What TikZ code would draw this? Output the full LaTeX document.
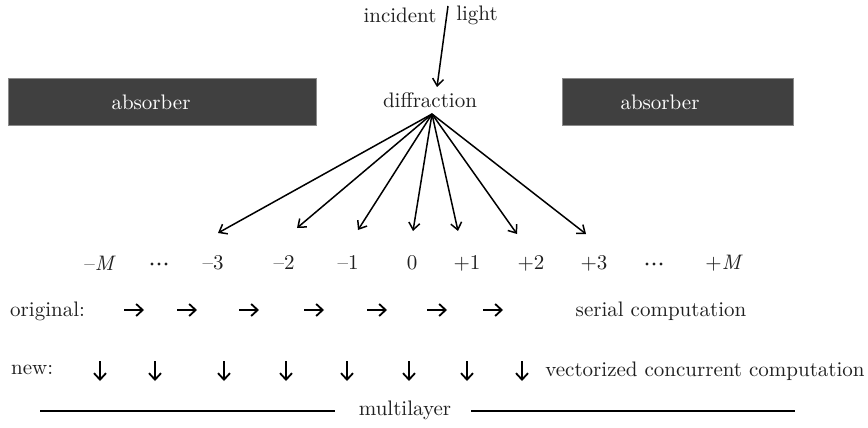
\documentclass[tikz,border=0pt]{standalone}
\usetikzlibrary{arrows.meta}
\definecolor{absgray}{HTML}{404040}
\definecolor{absedge}{HTML}{8A8A8A}
% text face: the 10pt design of Latin Modern, enlarged
\font\lbfont="[lmroman10-regular]:mapping=tex-text" at 21pt
\font\lbital="[lmroman10-italic]" at 21pt
\begin{document}
\begin{tikzpicture}[x=1pt,y=-1pt,
  lbl/.style={font=\lbfont, inner sep=0pt, text=black!88},
  dotfill/.style={fill=black!88},
  absorberbox/.style={fill=absgray, draw=absedge, line width=0.8pt, inner sep=0pt, anchor=north west},
  ray/.style={line width=1.5pt, -{Straight Barb[length=7pt,width=11pt,line width=1.5pt]}},
  flow/.style={line width=1.8pt, -{Straight Barb[length=6.5pt,width=12pt,line width=1.8pt]}},
  rule/.style={line width=1.5pt}
]
\useasboundingbox (0,0) rectangle (868,428);

% incident beam
\node[lbl] (inc) at (400,15) {incident};
\node[lbl] (lig) at (477,15) {light};
\coordinate (src) at (448,6);
\node[lbl] (dif) at (430,100) {diffraction};
\coordinate (apex) at (432,114);
\draw[ray] (src) -- (437,87) coordinate (hit);

% absorbers
\node[absorberbox, minimum width=308pt, minimum height=47pt] (absL) at (8,78) {};
\node[absorberbox, minimum width=231pt, minimum height=47pt] (absR) at (562,78) {};
\node[lbl, text=white] (absLt) at (151,102) {absorber};
\node[lbl, text=white] (absRt) at (660,102) {absorber};

% diffraction orders
\node[lbl] (mM) at (99,263) {–{\lbital M}};
\coordinate (dl) at (159,264);
\node[lbl] (m3) at (213,263) {–3};
\node[lbl] (m2) at (284,263) {–2};
\node[lbl] (m1) at (348,263) {–1};
\node[lbl] (z0) at (412,263) {0};
\node[lbl] (p1) at (467,263) {+1};
\node[lbl] (p2) at (531,263) {+2};
\node[lbl] (p3) at (594,263) {+3};
\coordinate (dr) at (654,264);
\node[lbl] (pM) at (723,263) {+{\lbital M}};
% ellipsis dots between the outer orders
\foreach \c in {dl,dr}
  \foreach \dx in {-7,0,7}
    \fill[dotfill] ([xshift=\dx pt]\c) circle (1.6pt);

% rays to the orders
\coordinate (t3) at (218,233);
\coordinate (t2) at (297,228);
\coordinate (t1) at (358,230);
\coordinate (t0) at (413,231);
\coordinate (u1) at (458,231);
\coordinate (u2) at (517,234);
\coordinate (u3) at (586,234);
\foreach \t in {t3,t2,t1,t0,u1,u2,u3}
  \draw[ray] (apex) -- (\t);

% serial row
\node[lbl, anchor=west] (orig) at (10,311) {original:};
\foreach \x [count=\i] in {134,187,249,314,377,437,493}
  \draw[flow] (\x-10,310) coordinate (sa\i) -- (\x+10,310) coordinate (sb\i);
\node[lbl] (ser) at (661,311) {serial computation};

% concurrent row
\node[lbl, anchor=west] (new) at (11,370) {new:};
\foreach \x [count=\i] in {100,155,224,286,347,409,467,522}
  \draw[flow] (\x,361) coordinate (va\i) -- (\x,381) coordinate (vb\i);
\node[lbl] (vec) at (705,371) {vectorized concurrent computation};

% multilayer
\node[lbl] (ml) at (405,410) {multilayer};
\coordinate (mlL) at (40,411);
\coordinate (mlR) at (795,411);
\draw[rule] (mlL) -- ([xshift=-24pt]ml.west |- mlL);
\draw[rule] ([xshift=20pt]ml.east |- mlR) -- (mlR);
\end{tikzpicture}
\end{document}
